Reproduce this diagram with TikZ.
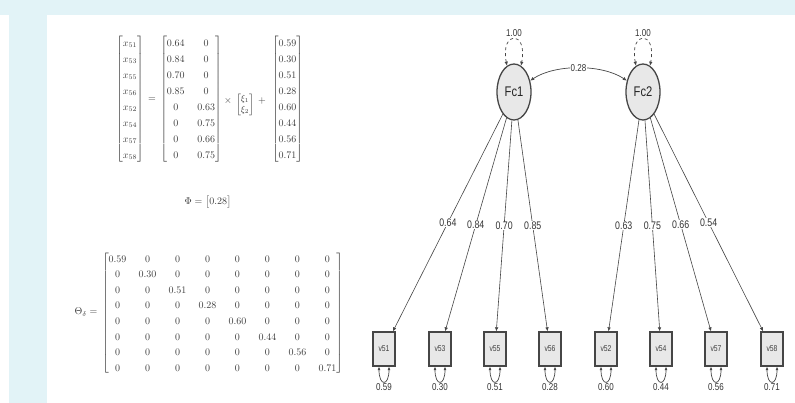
\documentclass[tikz,border=0pt]{standalone}
\usepackage{amsmath}
\usepackage{fontspec}
\newfontfamily\semfont[FakeStretch=0.8]{Liberation Sans}
\usetikzlibrary{shapes.geometric,arrows.meta}
\definecolor{bgblue}{RGB}{226,243,247}
\definecolor{mathgray}{RGB}{60,60,60}
\definecolor{linegray}{RGB}{70,70,70}
\definecolor{nodefill}{RGB}{232,232,232}
\begin{document}
\begin{tikzpicture}[x=1pt,y=-1pt,
  mathtxt/.style={inner sep=0pt, text=mathgray},
  latent/.style={ellipse, draw=linegray, line width=1.3pt, fill=nodefill,
    minimum width=34pt, minimum height=56pt, inner sep=0pt,
    font=\semfont\fontsize{14}{14}\selectfont, text=black!85},
  manifest/.style={rectangle, draw=linegray, line width=1.3pt, fill=nodefill,
    minimum width=22pt, minimum height=34pt, inner sep=0pt,
    font=\semfont\fontsize{8.5}{8.5}\selectfont, text=black!75},
  load/.style={draw=linegray, line width=0.6pt, -{Latex[length=4pt,width=3.5pt]}},
  cov/.style={draw=linegray, line width=0.7pt, {Latex[length=4pt,width=3.5pt]}-{Latex[length=4pt,width=3.5pt]}},
  varloop/.style={draw=linegray, line width=0.7pt, dashed, {Latex[length=4pt,width=3.5pt]}-{Latex[length=4pt,width=3.5pt]}},
  resid/.style={draw=linegray, line width=0.7pt, {Latex[length=3.5pt,width=3pt]}-{Latex[length=3.5pt,width=3pt]}},
  lab/.style={fill=white, inner sep=0.5pt, text=black!80,
    font=\semfont\fontsize{11}{11}\selectfont},
  slab/.style={fill=white, inner sep=0.5pt, text=black!80,
    font=\semfont\fontsize{10}{10}\selectfont}]
\useasboundingbox (0,0) rectangle (795,403);
% page background and frame bands
\fill[white] (0,0) rectangle (795,403);
\fill[bgblue] (0,0) rectangle (795,15);
\fill[bgblue] (9,15) rectangle (47,403);

% measurement model: x = Lambda xi + delta
\node[mathtxt] (xvec) at (130,99) {\renewcommand{\arraystretch}{1.33}%
  $\begin{bmatrix} x_{51}\\ x_{53}\\ x_{55}\\ x_{56}\\ x_{52}\\ x_{54}\\ x_{57}\\ x_{58}\end{bmatrix}$};
\node[mathtxt] (eqsign) at (152,100) {$=$};
\node[mathtxt] (lambda) at (191,99) {\renewcommand{\arraystretch}{1.33}\setlength{\arraycolsep}{6.3pt}%
  $\begin{bmatrix} 0.64 & 0\\ 0.84 & 0\\ 0.70 & 0\\ 0.85 & 0\\ 0 & 0.63\\ 0 & 0.75\\ 0 & 0.66\\ 0 & 0.75\end{bmatrix}$};
\node[mathtxt] (times) at (228,101) {$\times$};
\node[mathtxt] (xivec) at (245,105) {\fontsize{9}{11}\selectfont
  $\begin{bmatrix}\xi_1\\ \xi_2\end{bmatrix}$};
\node[mathtxt] (plus) at (262,101) {$+$};
\node[mathtxt] (delta) at (287.5,99) {\renewcommand{\arraystretch}{1.33}%
  $\begin{bmatrix} 0.59\\ 0.30\\ 0.51\\ 0.28\\ 0.60\\ 0.44\\ 0.56\\ 0.71\end{bmatrix}$};

% factor covariance matrix
\node[mathtxt] (eqphi) at (208,202) {$\Phi=\begin{bmatrix}0.28\end{bmatrix}$};

% error covariance matrix
\node[mathtxt] (thetalab) at (86,312) {$\Theta_\delta=$};
\node[mathtxt] (theta) at (222.5,313.5) {\renewcommand{\arraystretch}{1.3}\setlength{\arraycolsep}{6.1pt}%
$\begin{bmatrix}
0.59 & 0 & 0 & 0 & 0 & 0 & 0 & 0\\
0 & 0.30 & 0 & 0 & 0 & 0 & 0 & 0\\
0 & 0 & 0.51 & 0 & 0 & 0 & 0 & 0\\
0 & 0 & 0 & 0.28 & 0 & 0 & 0 & 0\\
0 & 0 & 0 & 0 & 0.60 & 0 & 0 & 0\\
0 & 0 & 0 & 0 & 0 & 0.44 & 0 & 0\\
0 & 0 & 0 & 0 & 0 & 0 & 0.56 & 0\\
0 & 0 & 0 & 0 & 0 & 0 & 0 & 0.71
\end{bmatrix}$};

% path diagram: latent factors
\node[latent] (Fc1) at (514,92) {Fc1};
\node[latent] (Fc2) at (643,92) {Fc2};

% observed indicators
\foreach \n/\x in {v51/384, v53/440, v55/495, v56/550, v52/606, v54/661, v57/716, v58/772}
  \node[manifest] (\n) at (\x,349) {\n};

% factor variances
\draw[varloop] (Fc1.105) .. controls (500,30) and (528,30) .. (Fc1.75);
\node[slab] (var1) at (514,33) {1.00};
\draw[varloop] (Fc2.105) .. controls (629,30) and (657,30) .. (Fc2.75);
\node[slab] (var2) at (643,33) {1.00};

% factor covariance
\draw[cov] (Fc1.35) .. controls (555,64) and (602,64) .. node[slab] (covlab) {0.28} (Fc2.145);

% loadings
\draw[load] (Fc1) -- node[lab] {0.64} (v51);
\draw[load] (Fc1) -- node[lab] {0.84} (v53);
\draw[load] (Fc1) -- node[lab] {0.70} (v55);
\draw[load] (Fc1) -- node[lab] {0.85} (v56);
\draw[load] (Fc2) -- node[lab] {0.63} (v52);
\draw[load] (Fc2) -- node[lab] {0.75} (v54);
\draw[load] (Fc2) -- node[lab] {0.66} (v57);
\draw[load] (Fc2) -- node[lab] {0.54} (v58);

% residual variances
\foreach \n/\r in {v51/0.59, v53/0.30, v55/0.51, v56/0.28, v52/0.60, v54/0.44, v57/0.56, v58/0.71}{
  \draw[resid] ([xshift=-5pt]\n.south) .. controls +(0,20) and +(0,20) .. ([xshift=5pt]\n.south);
  \node[slab] (r\n) at ([yshift=-20pt]\n.south) {\r};
}
\end{tikzpicture}
\end{document}
